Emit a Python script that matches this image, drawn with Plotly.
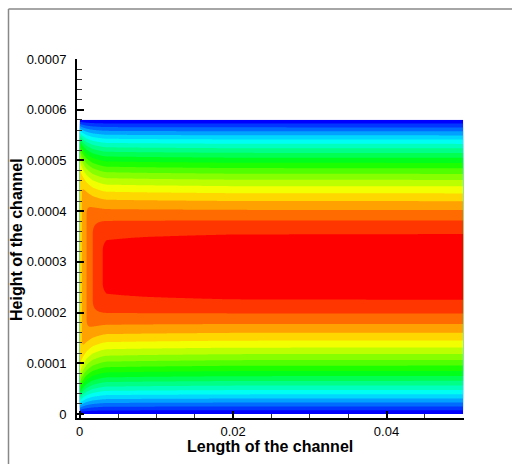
import numpy as np
import plotly.graph_objects as go

# ---- data ----
channel_height = 0.00058          # m
channel_length = 0.05             # m
# development stations along the channel and centre-line velocity (u/umax)
station_x = [0.0, 0.0003, 0.0009, 0.0017, 0.003, 0.0035, 0.0085, 0.02, 0.05]
centre_u = [0.77, 0.80, 0.85, 0.90, 0.95, 0.962, 0.975, 0.995, 1.0]
contour_levels = dict(start=0.05, end=0.95, size=0.05)
x_tick_vals = [0, 0.02, 0.04]
x_tick_text = ["0", "0.02", "0.04"]
y_tick_vals = [0, 0.0001, 0.0002, 0.0003, 0.0004, 0.0005, 0.0006, 0.0007]
y_tick_text = ["0", "0.0001", "0.0002", "0.0003", "0.0004", "0.0005", "0.0006", "0.0007"]

# ---- field (flat core + parabolic wall layers, mass conserving) ----
xg = np.concatenate([np.linspace(0, 0.006, 260), np.linspace(0.006, channel_length, 200)[1:]])
yg = np.linspace(0, channel_height, 321)
uc = np.interp(xg, station_x, centre_u)
a = np.clip(2.0 / uc - 2.0, 0, 0.99)
X, Y = np.meshgrid(xg, yg)
S = np.abs(2 * Y / channel_height - 1)
A = a[None, :]
UC = uc[None, :]
F = np.where(S < A, 1.0, 1 - ((S - A) / (1 - A)) ** 2)
U = UC * F

colorscale = [[0, "rgb(0,0,255)"], [0.25, "rgb(0,255,255)"], [0.5, "rgb(0,255,0)"],
              [0.75, "rgb(255,255,0)"], [1, "rgb(255,0,0)"]]

fig = go.Figure(go.Contour(
    x=xg, y=yg, z=U, autocontour=False,
    contours=dict(coloring="fill", showlines=False, **contour_levels),
    line=dict(width=0), colorscale=colorscale, showscale=False, hoverinfo="skip"))

font = "Liberation Sans, Arial, Helvetica, sans-serif"
L, R, T, B = 77, 48, 59, 46
W, H = 512, 464
pw, ph = W - L - R, H - T - B

def px(xp):
    return (xp - L) / pw

def py(yp):
    return (H - B - yp) / ph

fig.update_layout(
    width=W, height=H, margin=dict(l=L, r=R, t=T, b=B),
    paper_bgcolor="white", plot_bgcolor="white",
    font=dict(family=font, size=13, color="black"),
    xaxis=dict(range=[-0.00035, 0.0501], tickvals=x_tick_vals, ticktext=x_tick_text,
               tickfont=dict(size=13, family=font, color="black"),
               ticks="inside", ticklen=7, tickwidth=2, tickcolor="black",
               showline=True, linecolor="black", linewidth=2, showgrid=False, zeroline=False,
               ticklabelstandoff=0,
               minor=dict(tick0=0, dtick=0.005, ticks="inside", ticklen=4, tickwidth=1,
                          tickcolor="#333", showgrid=False)),
    yaxis=dict(range=[-0.0000079, 0.0007], tickvals=y_tick_vals, ticktext=y_tick_text,
               tickfont=dict(size=13, family=font, color="black"),
               ticks="inside", ticklen=7, tickwidth=2, tickcolor="black",
               showline=True, linecolor="black", linewidth=2, showgrid=False, zeroline=False,
               ticklabelstandoff=6,
               minor=dict(tick0=0, dtick=0.00002, ticks="inside", ticklen=5, tickwidth=1,
                          tickcolor="#333", showgrid=False)),
    annotations=[
        dict(text="<b>Length of the channel</b>", xref="paper", yref="paper",
             x=px(270), y=py(446), xanchor="center", yanchor="middle", showarrow=False,
             font=dict(size=16, family=font, color="black")),
        dict(text="<b>Height of the channel</b>", xref="paper", yref="paper",
             x=px(17), y=py(240), xanchor="center", yanchor="middle", showarrow=False,
             textangle=-90, font=dict(size=16, family=font, color="black")),
    ],
    shapes=[
        dict(type="line", xref="paper", yref="paper", x0=px(8.5), x1=px(8.5), y0=py(9), y1=py(470),
             line=dict(color="#888", width=1.5)),
        dict(type="line", xref="paper", yref="paper", x0=px(8.5), x1=px(520), y0=py(9), y1=py(9),
             line=dict(color="#888", width=1.5)),
    ],
)

fig.write_html("out.html")
